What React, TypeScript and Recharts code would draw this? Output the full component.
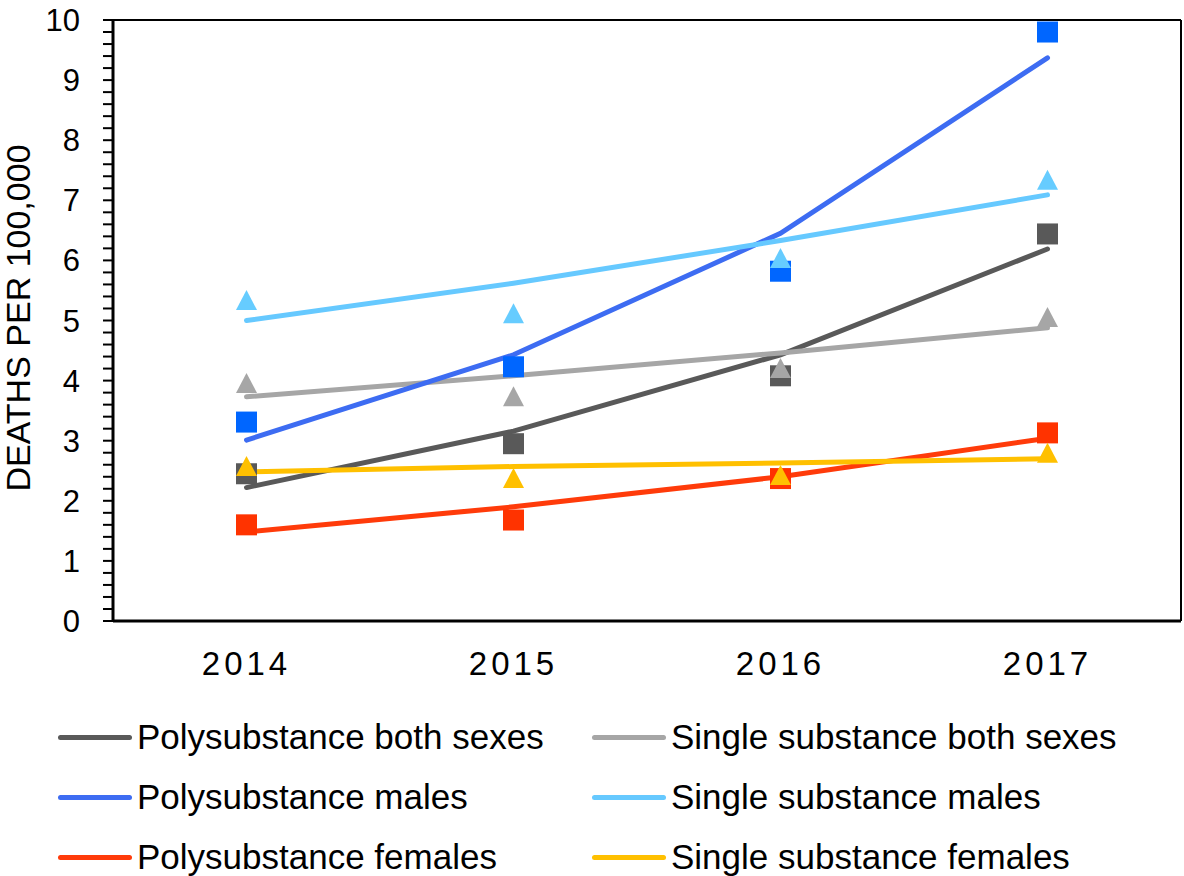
import { ComposedChart, Line, XAxis, YAxis } from 'recharts';

const years = ['2014', '2015', '2016', '2017'];

// observed rates (markers)
const polyBoth = [2.45, 2.95, 4.08, 6.44];
const polyMales = [3.31, 4.23, 5.82, 9.8];
const polyFemales = [1.6, 1.68, 2.37, 3.13];
const singleBoth = [3.96, 3.74, 4.21, 5.06];
const singleMales = [5.34, 5.12, 6.04, 7.34];
const singleFemales = [2.58, 2.38, 2.43, 2.8];

// trend lines
const polyBothTrend = [2.22, 3.16, 4.43, 6.19];
const polyMalesTrend = [3.01, 4.43, 6.45, 9.37];
const polyFemalesTrend = [1.48, 1.9, 2.4, 3.04];
const singleBothTrend = [3.73, 4.08, 4.46, 4.88];
const singleMalesTrend = [5.0, 5.62, 6.33, 7.09];
const singleFemalesTrend = [2.48, 2.57, 2.63, 2.7];

const majorTicks = [0, 1, 2, 3, 4, 5, 6, 7, 8, 9, 10];
const yTicks = Array.from({ length: 51 }, (_, i) => Math.round(i * 2) / 10);

const data = years.map((year, i) => ({
  year,
  polyBoth: polyBoth[i],
  polyMales: polyMales[i],
  polyFemales: polyFemales[i],
  singleBoth: singleBoth[i],
  singleMales: singleMales[i],
  singleFemales: singleFemales[i],
  polyBothTrend: polyBothTrend[i],
  polyMalesTrend: polyMalesTrend[i],
  polyFemalesTrend: polyFemalesTrend[i],
  singleBothTrend: singleBothTrend[i],
  singleMalesTrend: singleMalesTrend[i],
  singleFemalesTrend: singleFemalesTrend[i],
}));

const FONT = '"Liberation Sans", Arial, sans-serif';

const squareDot = (color: string) => (props: any) => {
  const { cx, cy, index } = props;
  if (cx == null || cy == null) return <g key={index} />;
  return <rect key={index} x={cx - 10.5} y={cy - 10.5} width={21} height={21} fill={color} />;
};

const triangleDot = (color: string) => (props: any) => {
  const { cx, cy, index } = props;
  if (cx == null || cy == null) return <g key={index} />;
  return (
    <polygon
      key={index}
      points={`${cx},${cy - 10} ${cx + 10.5},${cy + 10} ${cx - 10.5},${cy + 10}`}
      fill={color}
    />
  );
};

const trends = [
  { key: 'polyBothTrend', color: '#595959', name: 'Polysubstance both sexes' },
  { key: 'singleBothTrend', color: '#A6A6A6', name: 'Single substance both sexes' },
  { key: 'polyMalesTrend', color: '#3D6CF2', name: 'Polysubstance males' },
  { key: 'singleMalesTrend', color: '#66C9FF', name: 'Single substance males' },
  { key: 'polyFemalesTrend', color: '#FF3B0A', name: 'Polysubstance females' },
  { key: 'singleFemalesTrend', color: '#FFC000', name: 'Single substance females' },
];

const squares = [
  { key: 'polyBoth', color: '#595959' },
  { key: 'polyMales', color: '#0066FF' },
  { key: 'polyFemales', color: '#FF3300' },
];

const triangles = [
  { key: 'singleBoth', color: '#A6A6A6' },
  { key: 'singleMales', color: '#66CCFF' },
  { key: 'singleFemales', color: '#FFC000' },
];

const YLabel = () => (
  <text
    x={30}
    y={318}
    transform="rotate(-90, 30, 318)"
    textAnchor="middle"
    fontSize={34}
    fontFamily={FONT}
    fill="#000"
  >
    DEATHS PER 100,000
  </text>
);

function LegendBlock() {
  const cols = [
    { lineX: 58, textX: 137 },
    { lineX: 592, textX: 671 },
  ];
  return (
    <>
      {trends.map((t, i) => {
        const col = cols[i % 2];
        const row = Math.floor(i / 2);
        const cy = 737 + row * 60;
        return (
          <div key={t.key}>
            <div
              style={{
                position: 'absolute',
                left: col.lineX,
                top: cy - 2.5,
                width: 74,
                height: 5,
                borderRadius: 3,
                background: t.color,
              }}
            />
            <div
              style={{
                position: 'absolute',
                left: col.textX,
                top: cy - 22,
                height: 44,
                lineHeight: '44px',
                fontSize: 35,
                fontFamily: FONT,
                color: '#000',
                whiteSpace: 'nowrap',
              }}
            >
              {t.name}
            </div>
          </div>
        );
      })}
    </>
  );
}

export default function App() {
  return (
    <div style={{ position: 'absolute', left: 0, top: 0, width: 1184, height: 876, background: '#fff' }}>
      <ComposedChart
        width={1184}
        height={876}
        data={data}
        margin={{ top: 19, right: 2, bottom: 195, left: 0 }}
      >
        <XAxis
          dataKey="year"
          type="category"
          scale="band"
          height={60}
          tickLine={false}
          tickSize={0}
          tickMargin={31}
          axisLine={{ stroke: '#000', strokeWidth: 3 }}
          tick={{ fill: '#000', fontSize: 33, fontFamily: FONT, letterSpacing: 4 }}
        />
        <XAxis
          xAxisId="top"
          dataKey="year"
          type="category"
          scale="band"
          orientation="top"
          height={1}
          tick={false}
          tickLine={false}
          axisLine={{ stroke: '#000', strokeWidth: 2 }}
        />
        <YAxis
          type="number"
          domain={[0, 10]}
          ticks={yTicks}
          interval={0}
          width={113}
          tickSize={10}
          tickMargin={23}
          tickLine={{ stroke: '#000', strokeWidth: 2 }}
          axisLine={{ stroke: '#000', strokeWidth: 3 }}
          tick={{ fill: '#000', fontSize: 31, fontFamily: FONT }}
          tickFormatter={(v: number) => {
            const r = Math.round(v);
            return Math.abs(v - r) < 1e-6 && majorTicks.includes(r) ? String(r) : '';
          }}
        />
        <YAxis
          yAxisId="right"
          orientation="right"
          type="number"
          domain={[0, 10]}
          width={1}
          tick={false}
          tickLine={false}
          axisLine={{ stroke: '#000', strokeWidth: 2 }}
        />
        {trends.map((t) => (
          <Line
            key={t.key}
            dataKey={t.key}
            type="linear"
            stroke={t.color}
            strokeWidth={5}
            strokeLinecap="round"
            dot={false}
            activeDot={false}
            isAnimationActive={false}
          />
        ))}
        {squares.map((s) => (
          <Line
            key={s.key}
            dataKey={s.key}
            stroke="none"
            dot={squareDot(s.color)}
            activeDot={false}
            isAnimationActive={false}
          />
        ))}
        {triangles.map((s) => (
          <Line
            key={s.key}
            dataKey={s.key}
            stroke="none"
            dot={triangleDot(s.color)}
            activeDot={false}
            isAnimationActive={false}
          />
        ))}
        <YLabel />
      </ComposedChart>
      <LegendBlock />
    </div>
  );
}
